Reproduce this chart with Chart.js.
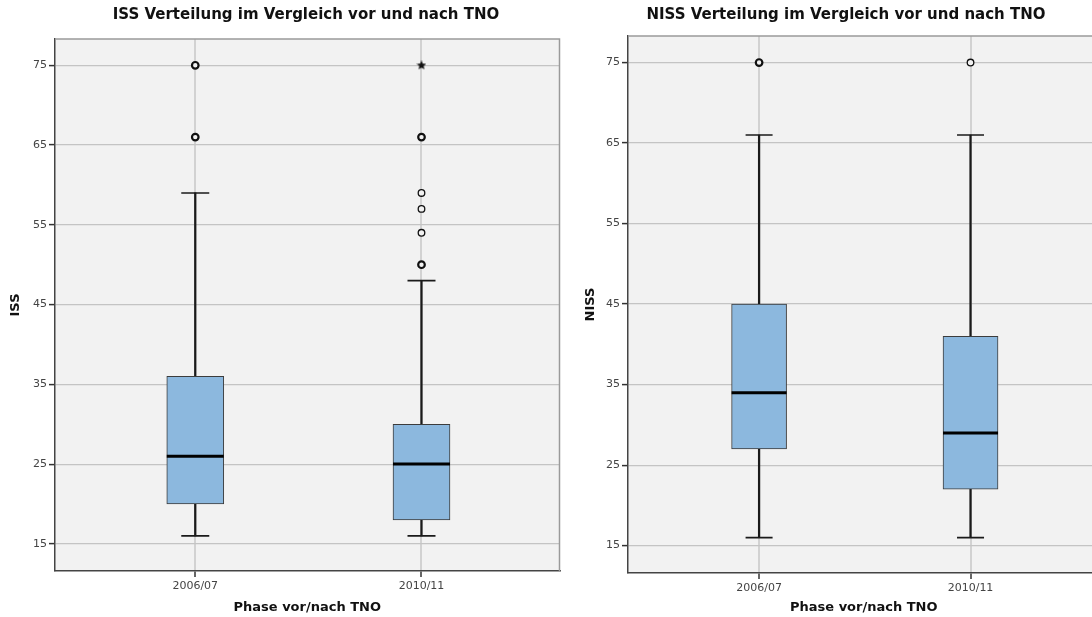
<!DOCTYPE html>
<html><head><meta charset="utf-8">
<script src="https://cdn.jsdelivr.net/npm/chart.js@4"></script>
<style>
html,body{margin:0;padding:0;background:#fff;overflow:hidden;width:1092px;height:617px;position:relative;}
#c1{position:absolute;left:0;top:0;}
#c2{position:absolute;left:575px;top:0;}
</style></head><body>
<canvas id="c1" width="591" height="617"></canvas>
<canvas id="c2" width="555" height="617"></canvas>
<script>
// ---- data ----
const categories = ['2006/07', '2010/11'];
const yTickValues = [15, 25, 35, 45, 55, 65, 75];

const issWhiskerLow  = [16, 16];
const issQ1          = [20, 18];
const issMedian      = [26, 25];
const issQ3          = [36, 30];
const issWhiskerHigh = [59, 48];
const issOutliers     = [[66, 75], [50, 54, 57, 59, 66]];
const issOutlierCases = [[2, 2], [2, 1, 1, 1, 2]];
const issExtremes     = [[], [75]];

const nissWhiskerLow  = [16, 16];
const nissQ1          = [27, 22];
const nissMedian      = [34, 29];
const nissQ3          = [45, 41];
const nissWhiskerHigh = [66, 66];
const nissOutliers     = [[75], [75]];
const nissOutlierCases = [[2], [1]];
const nissExtremes     = [[], []];

// ---- helpers ----
const FONT = 'DejaVu Sans';
function makeStar(size){
  const c = document.createElement('canvas'); c.width = c.height = size;
  const g = c.getContext('2d'); g.fillStyle = '#111'; g.beginPath();
  const R = size/2, r = R*0.45;
  for (let k=0;k<10;k++){ const a = -Math.PI/2 + k*Math.PI/5; const rr = k%2 ? r : R;
    g.lineTo(R + rr*Math.cos(a), R + rr*Math.sin(a)); }
  g.closePath(); g.fill(); return c;
}
const starImg = makeStar(10);

function pts(arr){ const out=[]; arr.forEach((v,i)=>out.push({x:i+1,y:v})); return out; }
function nested(arr){ const out=[]; arr.forEach((list,i)=>list.forEach(v=>out.push({x:i+1,y:v}))); return out; }

function boxDatasets(lo,q1,med,q3,hi,outl,cases,ext,boxW,capR){
  const caseFlat = []; cases.forEach(l=>l.forEach(c=>caseFlat.push(c)));
  return [
    {type:'bar', data: categories.map((c,i)=>({x:i+1, y:[q1[i], q3[i]]})),
     backgroundColor:'#8cb8de', borderColor:'#3c3c3c', borderWidth:1, borderSkipped:false,
     barThickness:boxW, grouped:false, order:2},
    {type:'bar', data: categories.map((c,i)=>({x:i+1, y:[lo[i], q1[i]]})),
     backgroundColor:'#1a1a1a', borderWidth:0, barThickness:1.6, grouped:false, order:3},
    {type:'bar', data: categories.map((c,i)=>({x:i+1, y:[q3[i], hi[i]]})),
     backgroundColor:'#1a1a1a', borderWidth:0, barThickness:1.6, grouped:false, order:3},
    {type:'line', showLine:false, data: pts(lo).concat(pts(hi)), pointStyle:'line',
     pointRadius:capR, pointHoverRadius:capR, pointBorderColor:'#1a1a1a', pointBorderWidth:1.6, order:1},
    {type:'line', showLine:false, data: pts(med), pointStyle:'line',
     pointRadius:boxW/2, pointHoverRadius:boxW/2, pointBorderColor:'#000', pointBorderWidth:3, order:0},
    {type:'line', showLine:false, data: nested(outl), pointStyle:'circle',
     pointRadius:3.3, pointBackgroundColor:'#f2f2f2', pointBorderColor:'#111',
     pointBorderWidth: caseFlat.map(c=> c>1 ? 2.2 : 1.3), order:1},
    {type:'line', showLine:false, data: nested(ext), pointStyle:starImg, order:1}
  ];
}

function panelPlugin(title, titleX){
  return {
    id:'panel',
    beforeDraw(chart){
      const a = chart.chartArea, ctx = chart.ctx;
      ctx.save(); ctx.fillStyle = '#f2f2f2'; ctx.fillRect(a.left, a.top, a.right-a.left, a.bottom-a.top); ctx.restore();
    },
    afterDraw(chart){
      const a = chart.chartArea, ctx = chart.ctx;
      ctx.save();
      ctx.strokeStyle = '#9a9a9a'; ctx.lineWidth = 1.5;
      ctx.beginPath(); ctx.moveTo(a.left, a.top); ctx.lineTo(a.right, a.top); ctx.lineTo(a.right, a.bottom); ctx.stroke();
      ctx.fillStyle = '#111'; ctx.font = 'bold 15px "' + FONT + '"';
      ctx.textAlign = 'center'; ctx.textBaseline = 'middle';
      ctx.fillText(title, titleX, 15);
      ctx.restore();
    }
  };
}

function makeChart(id, datasets, yTitle, title, titleX, pad, yWidth, xHeight){
  return new Chart(document.getElementById(id), {
    type:'bar',
    data:{datasets},
    plugins:[panelPlugin(title, titleX)],
    options:{
      responsive:false, animation:false,
      layout:{padding:pad},
      plugins:{legend:{display:false}, tooltip:{enabled:false}, title:{display:false}},
      scales:{
        x:{type:'linear', min:0.38, max:2.61, offset:false,
           afterBuildTicks: s => { s.ticks = categories.map((c,i)=>({value:i+1})); },
           afterFit: s => { s.height = xHeight; s.paddingLeft = 0; s.paddingRight = 0; },
           ticks:{callback:(v,i)=>categories[i], font:{family:FONT,size:11}, color:'#444', padding:3, maxRotation:0, autoSkip:false},
           grid:{offset:false, color:'#d2d2d2', lineWidth:2, tickLength:6, tickColor:'#333', tickWidth:1.5},
           border:{color:'#444', width:1.5},
           title:{display:true, text:'Phase vor/nach TNO', font:{family:FONT,size:13,weight:'bold'}, color:'#111', padding:{top:0,bottom:2}}
        },
        y:{type:'linear', min:11.6, max:78.3,
           afterBuildTicks: s => { s.ticks = yTickValues.map(v=>({value:v})); },
           afterFit: s => { s.width = yWidth; s.paddingTop = 0; s.paddingBottom = 0; },
           ticks:{callback:(v,i)=>String(yTickValues[i]), font:{family:FONT,size:11}, color:'#444', padding:2},
           grid:{color:'#c4c4c4', lineWidth:1.2, tickLength:6, tickColor:'#333', tickWidth:1.5},
           border:{color:'#444', width:1.5},
           title:{display:true, text:yTitle, font:{family:FONT,size:13,weight:'bold'}, color:'#111', padding:{top:8,bottom:0}}
        }
      }
    }
  });
}

makeChart('c1',
  boxDatasets(issWhiskerLow, issQ1, issMedian, issQ3, issWhiskerHigh, issOutliers, issOutlierCases, issExtremes, 57, 14),
  'ISS', 'ISS Verteilung im Vergleich vor und nach TNO', 306,
  {top:39, right:16, bottom:0, left:0}, 55, 46);

makeChart('c2',
  boxDatasets(nissWhiskerLow, nissQ1, nissMedian, nissQ3, nissWhiskerHigh, nissOutliers, nissOutlierCases, nissExtremes, 55, 13.5),
  'NISS', 'NISS Verteilung im Vergleich vor und nach TNO', 271,
  {top:36, right:15, bottom:0, left:0}, 53, 44);
</script>
</body></html>
